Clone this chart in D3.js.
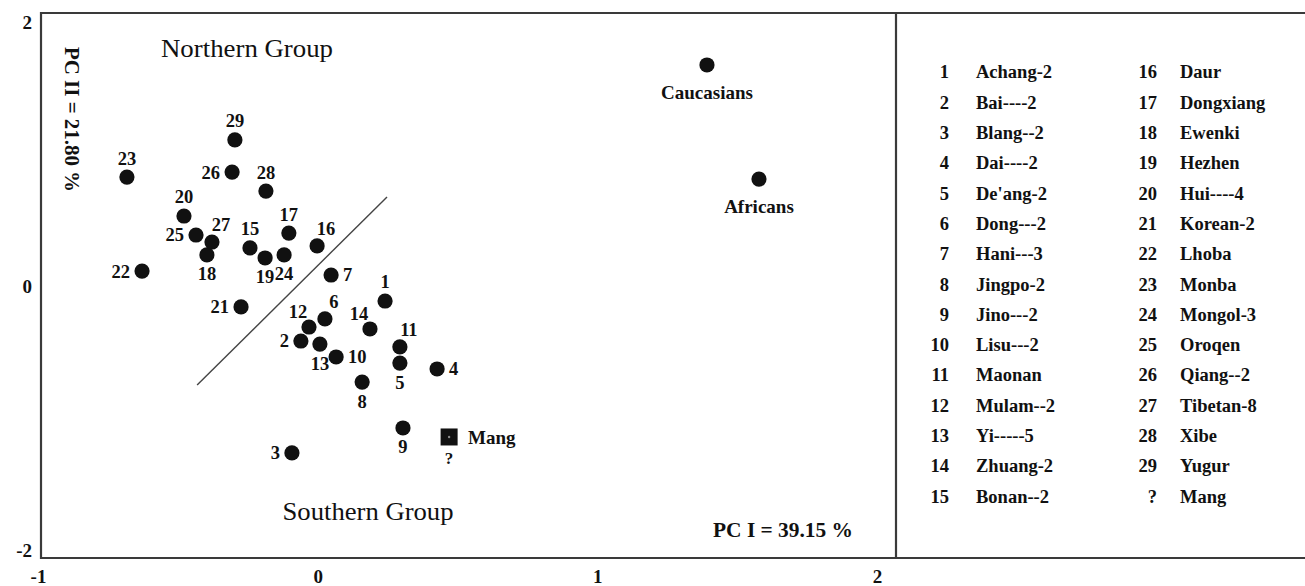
<!DOCTYPE html>
<html>
<head>
<meta charset="utf-8">
<script src="https://cdn.jsdelivr.net/npm/d3@7"></script>
<style>
  body { margin: 0; background: #fff; }
  svg text { font-family: "Liberation Serif", "Times New Roman", serif; fill: #111; }
</style>
</head>
<body>
<svg id="chart" width="1305" height="586"></svg>
<script>
// population numbers and their PC scores
const popIds = ["1","2","3","4","5","6","7","8","9","10","11","12","13","14","15",
                "16","17","18","19","20","21","22","23","24","25","26","27","28","29"];
const pc1 = [0.241, -0.060, -0.092, 0.427, 0.294, 0.026, 0.048, 0.159, 0.305, 0.066,
             0.294, -0.031, 0.008, 0.187, -0.242, -0.002, -0.103, -0.396, -0.188, -0.478,
             -0.274, -0.628, -0.682, -0.120, -0.435, -0.306, -0.378, -0.185, -0.296];
const pc2 = [-0.091, -0.394, -1.242, -0.606, -0.561, -0.227, 0.106, -0.705, -1.053, -0.515,
             -0.439, -0.288, -0.417, -0.303, 0.311, 0.326, 0.424, 0.258, 0.235, 0.553,
             -0.136, 0.136, 0.848, 0.258, 0.409, 0.886, 0.356, 0.742, 1.129];
// where the number sits next to its dot
const labelSide = ["t","l","l","r","b","tr","r","b","b","r",
                   "tr","tl","b","tl","t","tr","t","b","b","t",
                   "l","l","t","b","l","l","tr","t","t"];

// reference populations
const refNames = ["Caucasians", "Africans"];
const refPc1 = [1.392, 1.578];
const refPc2 = [1.697, 0.833];

// the unknown sample
const mangPc1 = 0.470;
const mangPc2 = -1.121;

// north / south dividing line
const divideLine = [[-0.431, -0.727], [0.248, 0.697]];

const xTicks = [-1, 0, 1, 2];
const yTicks = [-2, 0, 2];

const legendIds = ["1","2","3","4","5","6","7","8","9","10","11","12","13","14","15",
                   "16","17","18","19","20","21","22","23","24","25","26","27","28","29","?"];
const legendNames = ["Achang-2","Bai----2","Blang--2","Dai----2","De'ang-2","Dong---2","Hani---3",
                     "Jingpo-2","Jino---2","Lisu---2","Maonan","Mulam--2","Yi-----5","Zhuang-2","Bonan--2",
                     "Daur","Dongxiang","Ewenki","Hezhen","Hui----4","Korean-2","Lhoba","Monba",
                     "Mongol-3","Oroqen","Qiang--2","Tibetan-8","Xibe","Yugur","Mang"];

const svg = d3.select("#chart");
const x = d3.scaleLinear().domain([-1, 2]).range([38, 877]);
const y = d3.scaleLinear().domain([-2, 2]).range([553, 25]);

// frame
const frame = svg.append("g").attr("stroke", "#3a3a3a").attr("stroke-width", 2.2).attr("fill", "none");
frame.append("path").attr("d", "M1305,13 H41 V558 H1305");
frame.append("line").attr("x1", 896).attr("x2", 896).attr("y1", 13).attr("y2", 558);

// axes (labels only)
const xAxis = svg.append("g").attr("transform", "translate(0,577)")
  .call(d3.axisBottom(x).tickValues(xTicks).tickSize(0).tickFormat(d => String(d)));
const yAxis = svg.append("g").attr("transform", "translate(32,-3)")
  .call(d3.axisLeft(y).tickValues(yTicks).tickSize(0).tickFormat(d => String(d)));
[xAxis, yAxis].forEach(a => {
  a.select(".domain").remove();
  a.selectAll("text").attr("font-family", "Liberation Serif").attr("font-size", 19)
    .attr("font-weight", "bold").attr("fill", "#111");
});
xAxis.selectAll("text").attr("dy", "0.32em").attr("y", 0);
yAxis.selectAll("text").attr("x", 0);

// dividing line
svg.append("line")
  .attr("x1", x(divideLine[0][0])).attr("y1", y(divideLine[0][1]))
  .attr("x2", x(divideLine[1][0])).attr("y2", y(divideLine[1][1]))
  .attr("stroke", "#444").attr("stroke-width", 1.4);

// population dots
const pops = popIds.map((id, i) => ({ id, px: pc1[i], py: pc2[i], side: labelSide[i] }));
svg.append("g").selectAll("circle").data(pops).join("circle")
  .attr("cx", d => x(d.px)).attr("cy", d => y(d.py)).attr("r", 7.6).attr("fill", "#111");

const offs = {
  t:  { dx: 0,   dy: -19, anchor: "middle" },
  b:  { dx: 0,   dy: 19,  anchor: "middle" },
  l:  { dx: -12, dy: 0,   anchor: "end" },
  r:  { dx: 12,  dy: 0,   anchor: "start" },
  tr: { dx: 9,   dy: -17, anchor: "middle" },
  tl: { dx: -11, dy: -15, anchor: "middle" }
};
svg.append("g").selectAll("text").data(pops).join("text")
  .attr("x", d => x(d.px) + offs[d.side].dx)
  .attr("y", d => y(d.py) + offs[d.side].dy)
  .attr("dy", "0.35em")
  .attr("text-anchor", d => offs[d.side].anchor)
  .attr("font-size", 18.5).attr("font-weight", "bold")
  .text(d => d.id);

// reference populations
const refs = refNames.map((n, i) => ({ n, px: refPc1[i], py: refPc2[i] }));
svg.append("g").selectAll("circle").data(refs).join("circle")
  .attr("cx", d => x(d.px)).attr("cy", d => y(d.py)).attr("r", 7.6).attr("fill", "#111");
svg.append("g").selectAll("text").data(refs).join("text")
  .attr("x", d => x(d.px)).attr("y", d => y(d.py) + 27).attr("dy", "0.35em")
  .attr("text-anchor", "middle").attr("font-size", 19).attr("font-weight", "bold")
  .text(d => d.n);

// Mang
svg.append("rect")
  .attr("x", x(mangPc1) - 8.5).attr("y", y(mangPc2) - 8.5)
  .attr("width", 17).attr("height", 17).attr("fill", "#111");
svg.append("circle").attr("cx", x(mangPc1)).attr("cy", y(mangPc2)).attr("r", 1.2).attr("fill", "#888");
svg.append("text").attr("x", x(mangPc1) + 19).attr("y", y(mangPc2)).attr("dy", "0.35em")
  .attr("font-size", 19).attr("font-weight", "bold").text("Mang");
svg.append("text").attr("x", x(mangPc1)).attr("y", y(mangPc2) + 21).attr("dy", "0.35em")
  .attr("text-anchor", "middle").attr("font-size", 17).attr("font-weight", "bold").text("?");

// group names and axis titles
svg.append("text").attr("x", 247).attr("y", 57).attr("text-anchor", "middle")
  .attr("font-size", 26).attr("textLength", 172).attr("lengthAdjust", "spacingAndGlyphs")
  .text("Northern Group");
svg.append("text").attr("x", 368).attr("y", 520).attr("text-anchor", "middle")
  .attr("font-size", 26).attr("textLength", 171).attr("lengthAdjust", "spacingAndGlyphs")
  .text("Southern Group");
svg.append("text").attr("x", 713).attr("y", 537)
  .attr("font-size", 20).attr("font-weight", "bold")
  .attr("textLength", 140).attr("lengthAdjust", "spacingAndGlyphs")
  .text("PC I = 39.15 %");
svg.append("text").attr("transform", "translate(65,47) rotate(90)")
  .attr("font-size", 20).attr("font-weight", "bold")
  .attr("textLength", 145).attr("lengthAdjust", "spacingAndGlyphs")
  .text("PC II = 21.80 %");

// legend
const legend = legendIds.map((id, i) => ({ id, name: legendNames[i], col: Math.floor(i / 15), row: i % 15 }));
const lg = svg.append("g").attr("font-size", 18.5).attr("font-weight", "bold");
const colNum = [949, 1157], colName = [976, 1180];
lg.selectAll("text.num").data(legend).join("text").attr("class", "num")
  .attr("x", d => colNum[d.col]).attr("y", d => 72 + d.row * 30.3).attr("dy", "0.35em")
  .attr("text-anchor", "end").text(d => d.id);
lg.selectAll("text.name").data(legend).join("text").attr("class", "name")
  .attr("x", d => colName[d.col]).attr("y", d => 72 + d.row * 30.3).attr("dy", "0.35em")
  .text(d => d.name);
</script>
</body>
</html>
